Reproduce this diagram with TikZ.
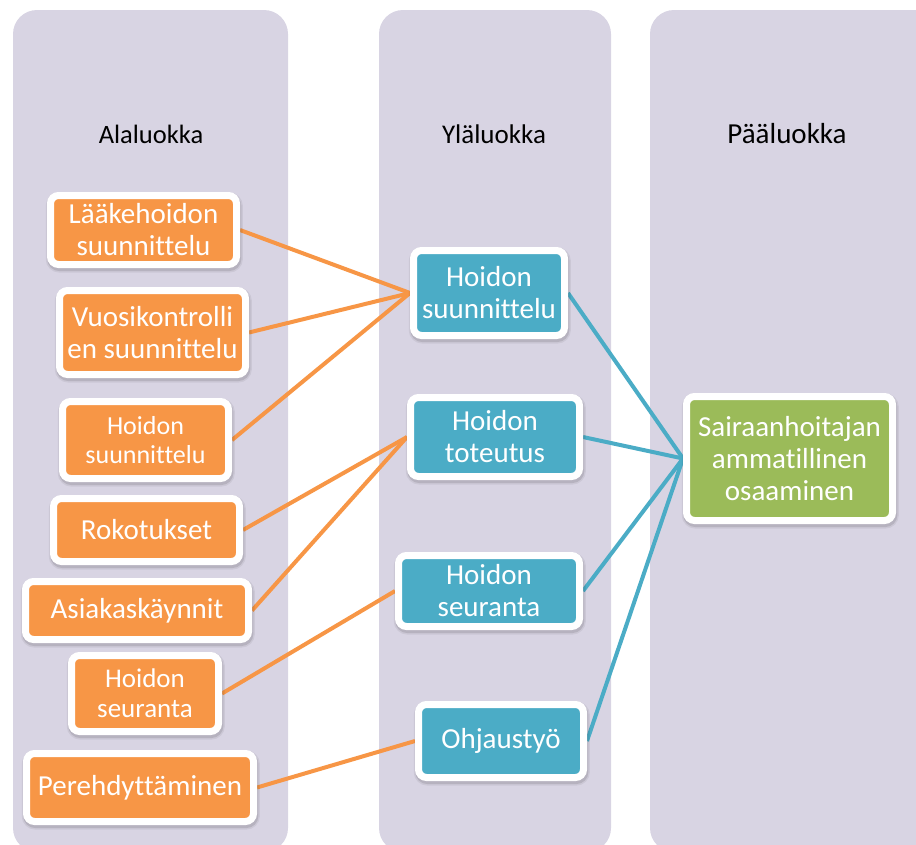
\documentclass[tikz,border=0pt]{standalone}
\usepackage{fontspec}
\setmainfont[Ligatures=NoCommon]{Carlito}
\pgfdeclarelayer{columns}
\pgfdeclarelayer{links}
\pgfsetlayers{columns,links,main}

\definecolor{lane}{RGB}{216,212,227}
\definecolor{accorange}{RGB}{247,150,70}
\definecolor{accblue}{RGB}{75,172,198}
\definecolor{accgreen}{RGB}{155,187,89}

\tikzset{
  softshadow/.style={
    preaction={draw=black, line width=11pt, opacity=0.06,
      transform canvas={xshift=0.8pt, yshift=-2.5pt}},
    preaction={draw=black, line width=8pt, opacity=0.10,
      transform canvas={xshift=0.8pt, yshift=-2.5pt}}},
  catbox/.style={rectangle, rounded corners=8pt, draw=white, line width=7pt,
    text=white, align=center, inner sep=2pt,
    font=\fontsize{29}{32}\selectfont, softshadow},
  subbox/.style={catbox, fill=accorange},
  midbox/.style={catbox, fill=accblue},
  mainbox/.style={catbox, fill=accgreen},
  olink/.style={draw=accorange, line width=4pt},
  blink/.style={draw=accblue, line width=4pt},
  header/.style={anchor=base, text=black},
  lanebox/.style={fill=lane, rounded corners=24pt},
}

\begin{document}
\begin{tikzpicture}[x=1pt, y=-1pt]
  \useasboundingbox (0,0) rectangle (916,844);

  % three category columns
  \begin{pgfonlayer}{columns}
    \begin{scope}
      \clip (0,0) rectangle (916,844);
      \path[lanebox] (13,10) rectangle (288,852);
      \path[lanebox] (379,10) rectangle (611,852);
      \path[lanebox] (650,10) rectangle (940,852);
    \end{scope}
  \end{pgfonlayer}

  % column headings
  \node[header, font=\fontsize{26.5}{30}\selectfont] (h1) at (151,143) {Alaluokka};
  \node[header, font=\fontsize{27}{30}\selectfont] (h2) at (494,143) {Yläluokka};
  \node[header, font=\fontsize{29}{30}\selectfont] (h3) at (787,143) {Pääluokka};

  % subcategories
  \node[subbox, minimum width=186pt, minimum height=69pt] (la) at (143.5,230) {Lääkehoidon\\suunnittelu};
  \node[subbox, minimum width=186pt, minimum height=84pt] (vu) at (152.5,332.5) {Vuosikontrolli\\en suunnittelu};
  \node[subbox, minimum width=166pt, minimum height=77pt, font=\fontsize{26}{29.5}\selectfont] (hsa) at (145.5,440) {Hoidon\\suunnittelu};
  \node[subbox, minimum width=186pt, minimum height=63pt] (ro) at (146.5,530) {Rokotukset};
  \node[subbox, minimum width=223pt, minimum height=58pt] (as) at (137,610.5) {Asiakaskäynnit};
  \node[subbox, minimum width=147pt, minimum height=76pt, font=\fontsize{27}{30}\selectfont] (hsb) at (145,693.5) {Hoidon\\seuranta};
  \node[subbox, minimum width=227pt, minimum height=68pt] (pe) at (140,787.5) {Perehdyttäminen};

  % upper categories
  \node[midbox, minimum width=151pt, minimum height=85pt] (ys) at (489,293) {Hoidon\\suunnittelu};
  \node[midbox, minimum width=169pt, minimum height=79pt] (yt) at (495,437) {Hoidon\\toteutus};
  \node[midbox, minimum width=181pt, minimum height=71pt] (yr) at (489,591) {Hoidon\\seuranta};
  \node[midbox, minimum width=165pt, minimum height=73pt] (yo) at (501,741) {Ohjaustyö};

  % main category
  \node[mainbox, minimum width=206pt, minimum height=124pt] (pm) at (789.5,458.5) {Sairaanhoitajan\\ammatillinen\\osaaminen};

  % connectors
  \begin{pgfonlayer}{links}
    \draw[olink] (la.east) -- (ys.west);
    \draw[olink] (vu.east) -- (ys.west);
    \draw[olink] (hsa.east) -- (ys.west);
    \draw[olink] (ro.east) -- (yt.west);
    \draw[olink] (as.east) -- (yt.west);
    \draw[olink] (hsb.east) -- (yr.west);
    \draw[olink] (pe.east) -- (yo.west);
    \draw[blink] (ys.east) -- (pm.west);
    \draw[blink] (yt.east) -- (pm.west);
    \draw[blink] (yr.east) -- (pm.west);
    \draw[blink] (yo.east) -- (pm.west);
  \end{pgfonlayer}
\end{tikzpicture}
\end{document}
